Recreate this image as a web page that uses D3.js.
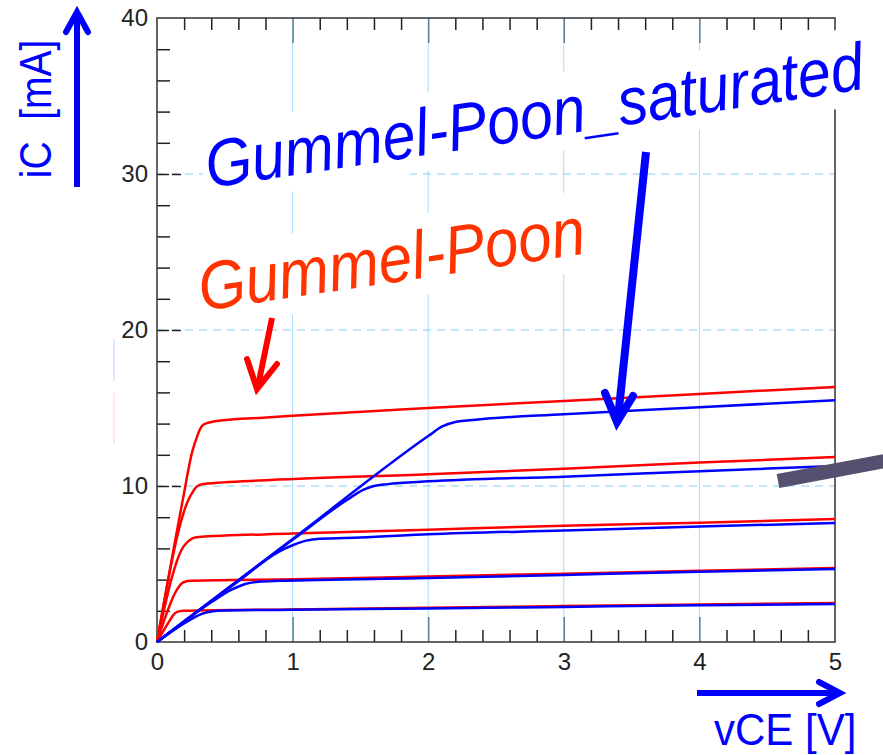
<!DOCTYPE html>
<html>
<head>
<meta charset="utf-8">
<script src="https://cdn.jsdelivr.net/npm/d3@7"></script>
<style>
html, body { margin: 0; padding: 0; background: #fff; }
svg { display: block; font-family: "Liberation Sans", Arial, sans-serif; }
</style>
</head>
<body>
<svg id="chart" width="883" height="755"></svg>
<script>
// axis values
var xTicks = [0, 1, 2, 3, 4, 5];
var yTicks = [0, 10, 20, 30, 40];
var gridX = [1, 2, 3, 4];
var gridY = [10, 20, 30];

// Gummel-Poon curves, [vCE (V), iC (mA)]
var gpCurve1 = [[0,0],[0.19,9.1],[0.26,12.2],[0.293,13.1],[0.32,13.7],[0.345,13.95],[0.44,14.17],[0.83,14.4],[1,14.5],[2,15.0],[3,15.45],[4,15.9],[5,16.35]];
var gpCurve2 = [[0,0],[0.231,9.1],[0.27,9.7],[0.292,9.96],[0.342,10.13],[0.83,10.38],[2,10.75],[3,11.1],[4,11.5],[5,11.86]];
var gpCurve3 = [[0,0],[0.194,6.1],[0.23,6.45],[0.29,6.72],[1,6.95],[2,7.2],[3,7.45],[4,7.65],[5,7.88]];
var gpCurve4 = [[0,0],[0.145,3.33],[0.175,3.7],[0.2,3.85],[0.25,3.92],[1,4.02],[2,4.2],[3,4.38],[4,4.56],[5,4.74]];
var gpCurve5 = [[0,0],[0.096,1.4],[0.125,1.78],[0.145,1.92],[0.194,2.0],[1,2.09],[2,2.2],[3,2.3],[4,2.4],[5,2.5]];

// Gummel-Poon_saturated curves
var satCurve1 = [[0,0],[1,6.6],[2,13.2],[2.1,13.8],[2.2,14.1],[2.35,14.25],[3,14.6],[4,15.05],[5,15.5]];
var satCurve2 = [[0,0],[1,6.55],[1.4,9.1],[1.52,9.75],[1.6,10.0],[1.7,10.12],[2,10.3],[3,10.6],[4,10.95],[5,11.28]];
var satCurve3 = [[0,0],[0.6,3.9],[0.9,5.8],[1.0,6.2],[1.1,6.5],[1.2,6.62],[1.5,6.7],[2,6.9],[3,7.15],[4,7.4],[5,7.63]];
var satCurve4 = [[0,0],[0.4,2.55],[0.55,3.35],[0.65,3.72],[0.75,3.86],[0.9,3.92],[2,4.1],[3,4.3],[4,4.5],[5,4.68]];
var satCurve5 = [[0,0],[0.25,1.45],[0.33,1.8],[0.4,1.95],[0.5,2.02],[1,2.07],[2,2.15],[3,2.25],[4,2.35],[5,2.44]];

var gummelPoon = [gpCurve1, gpCurve2, gpCurve3, gpCurve4, gpCurve5];
var gummelPoonSat = [satCurve1, satCurve2, satCurve3, satCurve4, satCurve5];

var svg = d3.select("#chart");

var x = d3.scaleLinear().domain([0, 5]).range([157, 835]);
var y = d3.scaleLinear().domain([0, 40]).range([642, 18]);

function isMinor(v) { return Math.abs(v - Math.round(v)) > 1e-6; }

// faint marks left of the axis
svg.append("line").attr("x1", 114).attr("x2", 114).attr("y1", 339).attr("y2", 381)
    .attr("stroke", "#c9c9ff").attr("stroke-width", 1);
svg.append("line").attr("x1", 114).attr("x2", 114).attr("y1", 393).attr("y2", 444)
    .attr("stroke", "#ffcfcf").attr("stroke-width", 1);

// grid
svg.append("g").selectAll("line").data(gridX).join("line")
    .attr("x1", d => x(d)).attr("x2", d => x(d))
    .attr("y1", y(40)).attr("y2", y(0))
    .attr("stroke", "#a6dbf7").attr("stroke-width", 1);
svg.append("g").selectAll("line").data(gridY).join("line")
    .attr("x1", x(0)).attr("x2", x(5))
    .attr("y1", d => y(d)).attr("y2", d => y(d))
    .attr("stroke", "#86cdf5").attr("stroke-width", 1.2)
    .attr("stroke-dasharray", "8,6");

// minor ticks (inward)
var minorX = x.ticks(25).filter(isMinor);
var minorY = y.ticks(20).filter(v => v % 10 !== 0);

var gb = svg.append("g").attr("transform", "translate(0," + y(0) + ")")
    .call(d3.axisBottom(x).tickValues(minorX).tickSize(-12).tickFormat(""));
var gt = svg.append("g").attr("transform", "translate(0," + y(40) + ")")
    .call(d3.axisTop(x).tickValues(minorX).tickSize(-12).tickFormat(""));
var gl = svg.append("g").attr("transform", "translate(" + x(0) + ",0)")
    .call(d3.axisLeft(y).tickValues(minorY).tickSize(-13).tickFormat(""));
[gb, gt, gl].forEach(function (g) {
    g.select(".domain").remove();
    g.selectAll("line").attr("stroke", "#222").attr("stroke-width", 1.5);
});

// major ticks
var gbM = svg.append("g").attr("transform", "translate(0," + y(0) + ")")
    .call(d3.axisBottom(x).tickValues(gridX).tickSize(-25).tickFormat(""));
var gtM = svg.append("g").attr("transform", "translate(0," + y(40) + ")")
    .call(d3.axisTop(x).tickValues(gridX).tickSize(-25).tickFormat(""));
[gbM, gtM].forEach(function (g) {
    g.select(".domain").remove();
    g.selectAll("line").attr("stroke", "#5f7d92").attr("stroke-width", 1.5);
});
var glM = svg.append("g").attr("transform", "translate(" + x(0) + ",0)")
    .call(d3.axisLeft(y).tickValues(gridY).tickSize(-24).tickFormat(""));
glM.select(".domain").remove();
glM.selectAll("line").attr("stroke", "#222").attr("stroke-width", 1.5).attr("stroke-dasharray", "12,3");

// frame
svg.append("rect").attr("x", x(0)).attr("y", y(40))
    .attr("width", x(5) - x(0)).attr("height", y(0) - y(40))
    .attr("fill", "none").attr("stroke", "#333").attr("stroke-width", 1.5);

// tick labels
var xl = svg.append("g").attr("transform", "translate(0," + y(0) + ")")
    .call(d3.axisBottom(x).tickValues(xTicks).tickSize(0).tickPadding(11).tickFormat(d3.format("d")));
var yl = svg.append("g").attr("transform", "translate(" + x(0) + ",0)")
    .call(d3.axisLeft(y).tickValues(yTicks).tickSize(0).tickPadding(9).tickFormat(d3.format("d")));
[xl, yl].forEach(function (g) {
    g.select(".domain").remove();
    g.selectAll("text").attr("fill", "#222").style("font-size", "24px")
        .style("font-family", "'Liberation Sans', Arial, sans-serif");
});

// annotation labels with white boxes (glyphs a little taller than wide, as in the original)
function boxedLabel(tx, ty, angle, txt, color, size) {
    var g = svg.append("g").attr("transform", "translate(" + tx + "," + ty + ") rotate(" + angle + ") scale(1,1.12)");
    var r = g.append("rect").attr("fill", "#fff");
    var t = g.append("text").text(txt)
        .attr("fill", color)
        .style("font-size", size + "px")
        .style("font-style", "italic");
    var bb = t.node().getBBox();
    r.attr("x", bb.x - 4).attr("y", bb.y - 2).attr("width", bb.width + 8).attr("height", bb.height + 4);
}
boxedLabel(209, 188, -8.6, "Gummel-Poon_saturated", "#0000ff", 59.5);
boxedLabel(202, 311, -8.5, "Gummel-Poon", "#ff3300", 60.5);

// curves
var line = d3.line()
    .x(d => x(d[0]))
    .y(d => y(d[1]))
    .curve(d3.curveMonotoneX);

svg.append("g").selectAll("path").data(gummelPoon).join("path")
    .attr("d", line).attr("fill", "none")
    .attr("stroke", "#ff0000").attr("stroke-width", 2.5);
svg.append("g").selectAll("path").data(gummelPoonSat).join("path")
    .attr("d", line).attr("fill", "none")
    .attr("stroke", "#0000ff").attr("stroke-width", 2.5);

// arrows
function arrow(shaft, head, color, w) {
    svg.append("path").attr("d", shaft).attr("fill", "none")
        .attr("stroke", color).attr("stroke-width", w);
    svg.append("path").attr("d", head).attr("fill", "none")
        .attr("stroke", color).attr("stroke-width", w)
        .attr("stroke-linecap", "round").attr("stroke-linejoin", "miter");
}
arrow("M272,318L258,386", "M247,359L257,389L277,364", "#ff0000", 6);
arrow("M646,152L618,418", "M605,393L617,422L633,396", "#0000ff", 8);
arrow("M77,187L77,14", "M66,32L77,12L88,32", "#0000ff", 6);
arrow("M697,693L838,693", "M819,682L840,693L819,704", "#0000ff", 6);

// grey bar on the right
svg.append("line").attr("x1", 778).attr("y1", 481).attr("x2", 890).attr("y2", 460)
    .attr("stroke", "#565070").attr("stroke-width", 14);

// axis titles
svg.append("text")
    .attr("transform", "translate(51,109) rotate(-90) scale(0.95,1.1)")
    .attr("text-anchor", "middle")
    .attr("fill", "#0000ff")
    .style("font-size", "41px")
    .style("white-space", "pre")
    .text("iC  [mA]");
svg.append("text")
    .attr("transform", "translate(714,745) scale(1,1.05)")
    .attr("fill", "#0000ff")
    .style("font-size", "42px")
    .text("vCE [V]");
</script>
</body>
</html>
